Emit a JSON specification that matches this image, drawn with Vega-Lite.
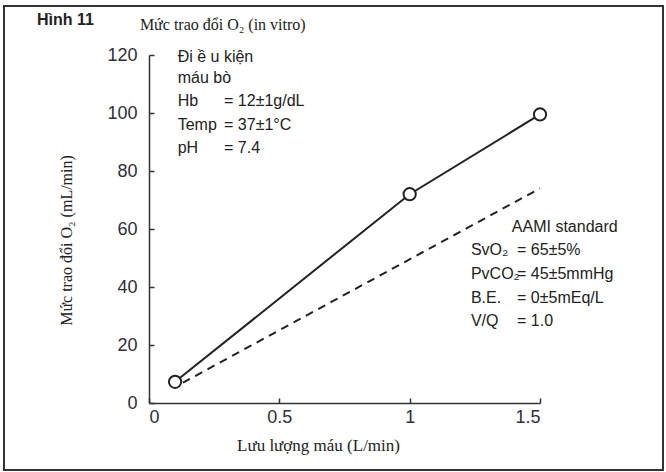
{
  "$schema": "https://vega.github.io/schema/vega-lite/v6.json",
  "autosize": {"type": "none"},
  "padding": {"left": 4, "top": 6, "right": 3, "bottom": 2},
  "width": 659,
  "height": 464,
  "background": "white",
  "config": {
    "view": {"stroke": "#333333", "strokeWidth": 2},
    "axis": {
      "grid": false,
      "domainColor": "#333333",
      "domainWidth": 1.5,
      "tickColor": "#333333",
      "tickWidth": 1.5,
      "tickSize": -5,
      "labelFont": "Liberation Sans, Arial, sans-serif",
      "labelFontSize": 18,
      "labelColor": "#2e2e3c",
      "titleFont": "Liberation Serif, Times New Roman, serif",
      "titleFontSize": 16,
      "titleFontWeight": "normal",
      "titleColor": "#222222"
    }
  },
  "datasets": {
    "measured": [
      {"flow": 0.1, "o2": 7.3},
      {"flow": 1.0, "o2": 72},
      {"flow": 1.5, "o2": 99.5}
    ],
    "standard": [
      {"flow": 0.13, "o2": 7},
      {"flow": 1.5, "o2": 74}
    ],
    "notes": [
      {"flow": 0.11, "o2": 119.3, "text": "Đi ề u kiện"},
      {"flow": 0.11, "o2": 112.1, "text": "máu bò"},
      {"flow": 0.11, "o2": 104.0, "text": "Hb"},
      {"flow": 0.288, "o2": 104.0, "text": "= 12±1g/dL"},
      {"flow": 0.11, "o2": 95.9, "text": "Temp"},
      {"flow": 0.288, "o2": 95.9, "text": "= 37±1°C"},
      {"flow": 0.11, "o2": 87.9, "text": "pH"},
      {"flow": 0.288, "o2": 87.9, "text": "= 7.4"},
      {"flow": 1.392, "o2": 60.7, "text": "AAMI standard"},
      {"flow": 1.235, "o2": 52.8, "text": "SvO₂"},
      {"flow": 1.412, "o2": 52.8, "text": "= 65±5%"},
      {"flow": 1.235, "o2": 44.5, "text": "PvCO₂"},
      {"flow": 1.412, "o2": 44.5, "text": "= 45±5mmHg"},
      {"flow": 1.235, "o2": 36.2, "text": "B.E."},
      {"flow": 1.412, "o2": 36.2, "text": "= 0±5mEq/L"},
      {"flow": 1.235, "o2": 28.3, "text": "V/Q"},
      {"flow": 1.412, "o2": 28.3, "text": "= 1.0"}
    ],
    "heading": [
      {"flow": -0.43, "o2": 132.1, "text": "Hình 11"}
    ],
    "caption": [
      {"flow": -0.035, "o2": 130.3, "text": "Mức trao đổi O₂ (in vitro)"}
    ]
  },
  "encoding": {
    "x": {
      "field": "flow",
      "type": "quantitative",
      "scale": {"domain": [0, 1.5], "range": [145, 536], "nice": false, "zero": false},
      "axis": {
        "values": [0, 0.5, 1, 1.5],
        "format": "~g",
        "offset": -67,
        "labelPadding": 10,
        "title": "Lưu lượng máu (L/min)",
        "titleFontSize": 17,
        "titleX": 314,
        "titleY": 42,
        "titleAlign": "center",
        "titleBaseline": "middle"
      }
    },
    "y": {
      "field": "o2",
      "type": "quantitative",
      "scale": {"domain": [0, 120], "range": [397, 49], "nice": false, "zero": false},
      "axis": {
        "values": [0, 20, 40, 60, 80, 100, 120],
        "offset": -145,
        "labelPadding": 17,
        "title": "Mức trao đổi O₂ (mL/min)",
        "titleX": -83,
        "titleY": 234,
        "titleAngle": -90,
        "titleAlign": "center",
        "titleBaseline": "middle"
      }
    }
  },
  "layer": [
    {
      "data": {"name": "standard"},
      "mark": {"type": "line", "color": "#222222", "strokeWidth": 2, "strokeDash": [8, 6]}
    },
    {
      "data": {"name": "measured"},
      "mark": {"type": "line", "color": "#222222", "strokeWidth": 2}
    },
    {
      "data": {"name": "measured"},
      "mark": {"type": "point", "shape": "circle", "filled": true, "fill": "white", "stroke": "#222222", "strokeWidth": 2, "size": 150, "opacity": 1}
    },
    {
      "data": {"name": "notes"},
      "mark": {"type": "text", "align": "left", "baseline": "middle", "font": "Liberation Sans, Arial, sans-serif", "fontSize": 16, "color": "#222222"},
      "encoding": {"text": {"field": "text"}}
    },
    {
      "data": {"name": "heading"},
      "mark": {"type": "text", "align": "left", "baseline": "middle", "font": "Liberation Sans, Arial, sans-serif", "fontSize": 16, "fontWeight": "bold", "color": "#222222"},
      "encoding": {"text": {"field": "text"}}
    },
    {
      "data": {"name": "caption"},
      "mark": {"type": "text", "align": "left", "baseline": "middle", "font": "Liberation Serif, Times New Roman, serif", "fontSize": 16, "color": "#222222"},
      "encoding": {"text": {"field": "text"}}
    }
  ]
}
